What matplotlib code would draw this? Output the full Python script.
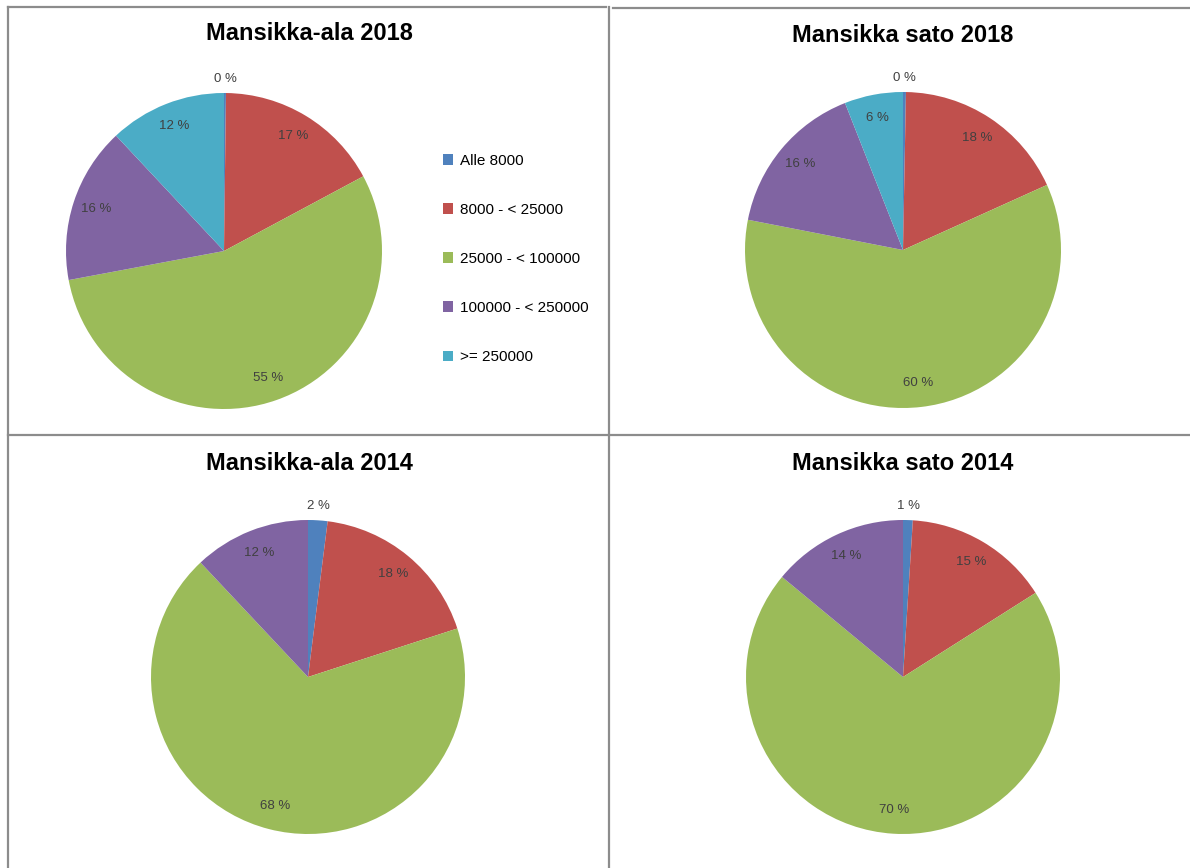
import matplotlib
matplotlib.use("Agg")
import matplotlib.pyplot as plt
from matplotlib.lines import Line2D
import numpy as np

# Size classes (kg) and Excel 2007 default colours
classes = ["Alle 8000", "8000 - < 25000", "25000 - < 100000",
           "100000 - < 250000", ">= 250000"]
colors = ["#4F81BD", "#C0504D", "#9BBB59", "#8064A2", "#4BACC6"]

titles = ["Mansikka-ala 2018", "Mansikka sato 2018",
          "Mansikka-ala 2014", "Mansikka sato 2014"]

# shares in percent, per size class
ala_2018 = [0.2, 17, 55, 16, 12]
sato_2018 = [0.3, 18, 60, 16, 6]
ala_2014 = [2, 18, 68, 12, 0]
sato_2014 = [1, 15, 70, 14, 0]
series = [ala_2018, sato_2018, ala_2014, sato_2014]

W, H = 1190, 868
fig = plt.figure(figsize=(W / 100, H / 100), dpi=100)
font = ["Liberation Sans", "DejaVu Sans"]


def px_axes(cx, cy, r):
    # axes box around a pie centre given in pixels (top-left origin)
    return fig.add_axes([(cx - r) / W, (H - cy - r) / H, 2 * r / W, 2 * r / H])


# (centre x, centre y, radius, title y) per panel
layout = [(224, 251, 158, 33), (903, 250, 158, 35),
          (308, 677, 157, 463), (903, 677, 157, 464)]
title_x = [309, 903, 309, 903]

first_wedges = None
for vals, title, (cx, cy, r, ty), tx in zip(series, titles, layout, title_x):
    ax = px_axes(cx, cy, r)
    v = np.array(vals, dtype=float)
    wedges, _ = ax.pie(v, colors=colors, startangle=90, counterclock=False,
                       radius=1, wedgeprops=dict(linewidth=0))
    if first_wedges is None:
        first_wedges = wedges
    total = v.sum()
    for w, val in zip(wedges, v):
        if val <= 0:
            continue
        mid = np.deg2rad((w.theta1 + w.theta2) / 2)
        dist = 1.09 if val / total < 0.03 else 0.85
        ax.text(dist * np.cos(mid), dist * np.sin(mid),
                f"{round(val / total * 100):.0f} %", ha="center", va="center",
                fontsize=9.5, color="#404040", family=font)
    ax.set_xlim(-1, 1)
    ax.set_ylim(-1, 1)
    ax.set_aspect("equal")
    ax.axis("off")
    fig.text(tx / W, 1 - ty / H, title, ha="center", va="center",
             fontsize=17, fontweight="bold", family=font, color="black")

fig.legend(first_wedges, classes, loc="upper left",
           bbox_to_anchor=(429 / W, 1 - 140 / H), frameon=False,
           handlelength=0.7, handleheight=0.7,
           labelspacing=2.3, handletextpad=0.45,
           prop=dict(family=font, size=11))

# panel borders
grey = "#8c8c8c"
lines = [((8, 8), (7, H)), ((8, 606), (7, 7)), ((613, W), (8, 8)),
         ((609, 609), (7, H)), ((8, W), (435, 435))]
for xs, ys in lines:
    fig.add_artist(Line2D([x / W for x in xs], [1 - y / H for y in ys],
                          color=grey, linewidth=1.6))

fig.savefig("out.png", dpi=100)
